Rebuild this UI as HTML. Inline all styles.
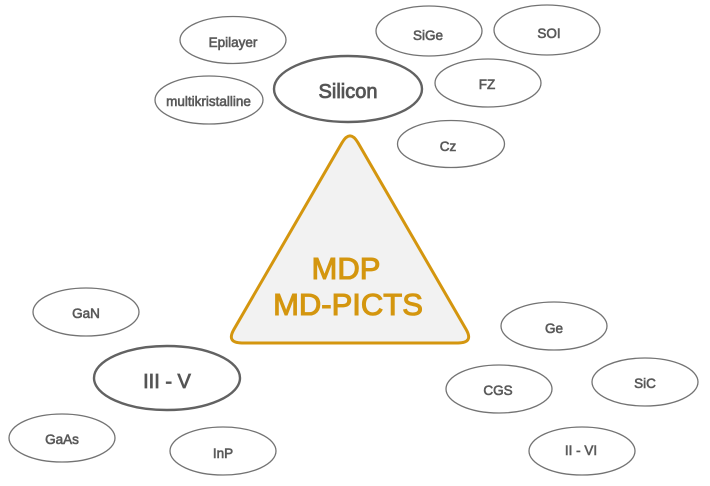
<!DOCTYPE html>
<html>
<head>
<meta charset="utf-8">
<style>
  html,body{margin:0;padding:0;background:#fff;}
  svg{display:block;}
  .e{fill:none;stroke:#737373;stroke-width:1.3;}
  .E{fill:none;stroke:#626262;stroke-width:2.4;}
  .t{font-family:"Liberation Sans",Arial,sans-serif;font-size:13.5px;fill:#595959;stroke:#595959;stroke-width:0.6;text-anchor:middle;}
  .T{font-family:"Liberation Sans",Arial,sans-serif;font-size:20px;fill:#555;stroke:#555;stroke-width:0.8;text-anchor:middle;}
  .m{font-family:"Liberation Sans",Arial,sans-serif;font-size:31px;fill:#D4960F;stroke:#D4960F;stroke-width:1.1;text-anchor:middle;}
</style>
</head>
<body>
<svg width="710" height="486" viewBox="0 0 710 486" xmlns="http://www.w3.org/2000/svg">
  <!-- Triangle -->
  <path d="M342,142.8 Q350,129 358,142.8 L466,329.2 Q474,343 458,343 L242,343 Q226,343 234,329.2 Z"
        fill="#F2F2F2" stroke="#D4960F" stroke-width="3" stroke-linejoin="round"/>
  <text class="m" x="346" y="279">MDP</text>
  <text class="m" x="348" y="315">MD-PICTS</text>

  <!-- Silicon group -->
  <ellipse class="e" cx="233" cy="40" rx="53" ry="23.5"/>
  <text class="t" x="233" y="47">Epilayer</text>
  <ellipse class="e" cx="429" cy="31" rx="53" ry="25"/>
  <text class="t" x="428" y="40">SiGe</text>
  <ellipse class="e" cx="547" cy="30" rx="53" ry="25"/>
  <text class="t" x="549" y="38">SOI</text>
  <ellipse class="e" cx="209" cy="100" rx="54" ry="24"/>
  <text class="t" x="208.5" y="106">multikristalline</text>
  <ellipse class="E" cx="348" cy="89" rx="74" ry="33"/>
  <text class="T" x="348" y="98">Silicon</text>
  <ellipse class="e" cx="488" cy="83" rx="53" ry="24"/>
  <text class="t" x="487" y="89">FZ</text>
  <ellipse class="e" cx="451" cy="144" rx="53.5" ry="23.5"/>
  <text class="t" x="448" y="151">Cz</text>

  <!-- III-V group -->
  <ellipse class="e" cx="86" cy="312" rx="53" ry="24"/>
  <text class="t" x="86" y="318">GaN</text>
  <ellipse class="E" cx="167" cy="378" rx="73" ry="32"/>
  <text class="T" x="167" y="388">III - V</text>
  <ellipse class="e" cx="62" cy="438" rx="53" ry="24"/>
  <text class="t" x="62" y="444">GaAs</text>
  <ellipse class="e" cx="223" cy="451" rx="53" ry="24"/>
  <text class="t" x="223" y="458">InP</text>

  <!-- Others -->
  <ellipse class="e" cx="554" cy="326" rx="53" ry="24"/>
  <text class="t" x="554" y="333">Ge</text>
  <ellipse class="e" cx="499" cy="389" rx="53" ry="24"/>
  <text class="t" x="498" y="395">CGS</text>
  <ellipse class="e" cx="645" cy="382" rx="53" ry="24"/>
  <text class="t" x="645" y="388">SiC</text>
  <ellipse class="e" cx="582" cy="451" rx="53" ry="24"/>
  <text class="t" x="581" y="455">II - VI</text>
</svg>
</body>
</html>
